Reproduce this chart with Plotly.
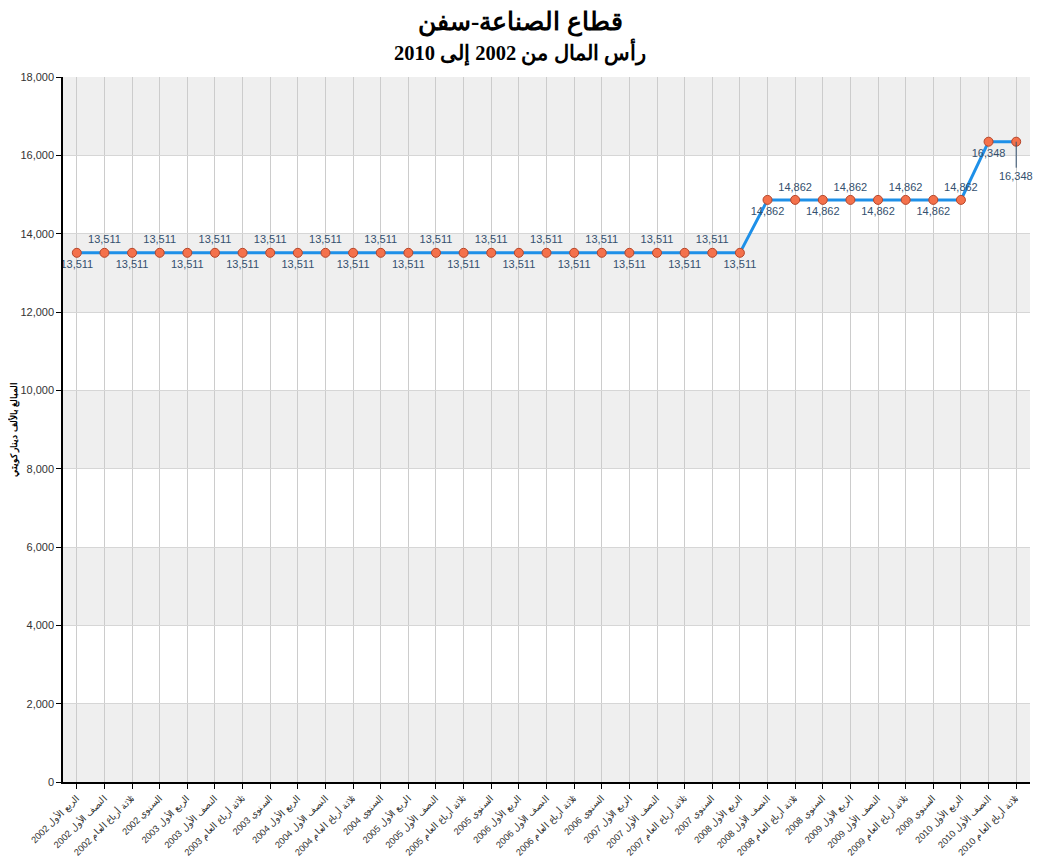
import plotly.graph_objects as go

years = ["2002", "2003", "2004", "2005", "2006", "2007", "2008", "2009", "2010"]
periods = ["الربع الأول", "النصف الأول", "ثلاثة أرباع العام", "السنوي"]
categories = []
for y in years:
    for p in periods:
        if y == "2010" and p == "السنوي":
            continue
        categories.append(p + " " + y)

values = [13511] * 25 + [14862] * 8 + [16348] * 2
label_pos = (["bottom center", "top center"] * 13)[:25] + ["bottom center", "top center"] * 4 + ["bottom center", "bottom center"]

fig = go.Figure()

# alternating bands
for lo in [0, 4000, 8000, 12000, 16000]:
    fig.add_shape(type="rect", xref="paper", yref="y", x0=0, x1=1, y0=lo, y1=lo + 2000,
                  fillcolor="#efefef", line_width=0, layer="below")

texts = ["{:,}".format(v) for v in values]
texts[-1] = ""
fig.add_trace(go.Scatter(
    x=categories, y=values, mode="lines+markers+text",
    line=dict(color="#1E90E8", width=3),
    marker=dict(size=9, color="#F4714B", line=dict(color="#B5452A", width=1)),
    text=texts, textposition=label_pos,
    textfont=dict(family="Arial, Liberation Sans, sans-serif", size=11, color="#34506E"),
    cliponaxis=False, showlegend=False,
))

fig.add_annotation(x=categories[-1], y=values[-1], text="{:,}".format(values[-1]),
                   showarrow=True, arrowhead=0, arrowwidth=1, arrowcolor="#34506E",
                   ax=0, ay=26, yanchor="top",
                   font=dict(family="Arial, Liberation Sans, sans-serif", size=11, color="#34506E"))

title_x = (520 - 63) / (1030 - 63)
fig.add_annotation(xref="paper", yref="paper", x=title_x, y=1, yshift=55, yanchor="middle",
                   text="<b>قطاع الصناعة-سفن</b>",
                   showarrow=False, font=dict(family="Liberation Serif, Times New Roman, serif", size=25, color="#000"))
fig.add_annotation(xref="paper", yref="paper", x=title_x, y=1, yshift=25, yanchor="middle",
                   text="<b>رأس المال من 2002 إلى 2010</b>",
                   showarrow=False, font=dict(family="Liberation Serif, Times New Roman, serif", size=20.5, color="#000"))

fig.update_layout(
    width=1030, height=851,
    margin=dict(l=55, r=8, t=69, b=77),
    plot_bgcolor="white", paper_bgcolor="white",
    font=dict(family="Arial, Liberation Sans, sans-serif"),
    xaxis=dict(
        type="category", tickangle=-45, showgrid=True, gridcolor="#cccccc", gridwidth=1,
        ticks="outside", ticklen=5, tickcolor="#000", showline=True, linecolor="#000", linewidth=1.5,
        tickfont=dict(size=9.3, color="#333"), range=[-0.5, len(categories) - 0.5], automargin=False,
    ),
    yaxis=dict(
        range=[0, 18000], dtick=2000, tickformat=",", showgrid=True, gridcolor="#d6d6d6",
        ticks="outside", ticklen=5, tickcolor="#000", showline=True, linecolor="#000", linewidth=1.5,
        tickfont=dict(size=11, color="#333"), zeroline=False, automargin=False,
        title=dict(text="<b>المبالغ بالألف دينار كويتي</b>", font=dict(size=9, color="#000"), standoff=12),
    ),
)

fig.write_html("out.html")
